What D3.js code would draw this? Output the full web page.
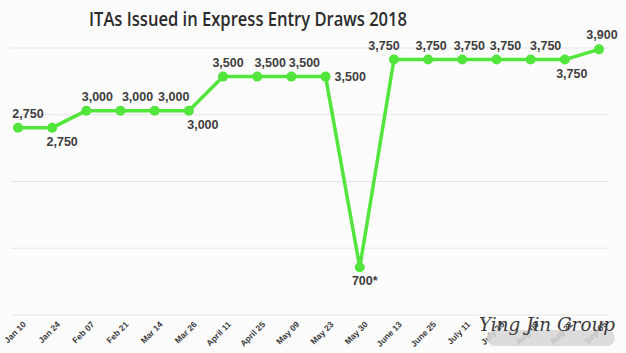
<!DOCTYPE html>
<html>
<head>
<meta charset="utf-8">
<script src="https://cdn.jsdelivr.net/npm/d3@7"></script>
<style>
  body { margin: 0; background: #fff; }
  svg { display: block; }
</style>
</head>
<body>
<svg id="drawing_region"></svg>
<script>
const draws = ["Jan 10", "Jan 24", "Feb 07", "Feb 21", "Mar 14", "Mar 26", "April 11", "April 25",
  "May 09", "May 23", "May 30", "June 13", "June 25", "July 11", "July 25", "Aug 08", "Aug 22", "Sep 05"];
const itas = [2750, 2750, 3000, 3000, 3000, 3000, 3500, 3500, 3500, 3500, 700,
  3750, 3750, 3750, 3750, 3750, 3750, 3900];
const valueLabels = ["2,750", "2,750", "3,000", "3,000", "3,000", "3,000", "3,500", "3,500", "3,500",
  "3,500", "700*", "3,750", "3,750", "3,750", "3,750", "3,750", "3,750", "3,900"];
const gridValues = [0, 980, 1960, 2940, 3920];

// where each value label sits: a = above, b = below, r = right
const labelSide = ["a", "b", "a", "a", "a", "b", "a", "a", "a", "r", "b", "a", "a", "a", "a", "a", "b", "a"];
const labelShift = [10, 10, 11, 17, 19, 14, 5, 13, 13, 0, 5, -10, 3, 7, 9, 15, 7, 3];

const width = 626;
const height = 353;

const svg = d3.select('#drawing_region')
    .attr('width', width)
    .attr('height', height);

svg.append('rect')
    .attr('width', width).attr('height', height)
    .attr('fill', '#fdfcfd');

const xscale = d3.scalePoint()
    .domain(draws)
    .range([18, 599]);

const yscale = d3.scaleLinear()
    .domain([0, 3920])
    .range([315, 48]);

// gridlines
svg.append('g')
  .selectAll('line')
  .data(gridValues)
  .enter()
  .append('line')
    .attr('x1', 11)
    .attr('x2', 608)
    .attr('y1', d => yscale(d))
    .attr('y2', d => yscale(d))
    .attr('stroke', '#e6e4e8')
    .attr('stroke-width', 1);

// title
svg.append('text')
    .attr('x', 248)
    .attr('y', 26)
    .attr('text-anchor', 'middle')
    .attr('font-family', '"Open Sans", sans-serif')
    .attr('font-weight', 600)
    .attr('font-size', '20px')
    .attr('textLength', 318)
    .attr('lengthAdjust', 'spacingAndGlyphs')
    .attr('fill', '#2b2b2b')
    .text('ITAs Issued in Express Entry Draws 2018');

// x axis labels
const xaxis = d3.axisBottom(xscale).tickSize(0).tickPadding(0);
const xg = svg.append('g')
    .attr('transform', 'translate(0, 315)')
    .call(xaxis);
xg.select('.domain').remove();
xg.selectAll('text')
    .attr('font-family', '"Liberation Sans", Arial, sans-serif')
    .attr('font-weight', 'bold')
    .attr('font-size', '8.5px')
    .attr('fill', '#3a3a3a')
    .attr('text-anchor', 'end')
    .attr('dy', null)
    .attr('transform', 'translate(8, 10) rotate(-45)');

// line
const pts = draws.map((d, i) => ({ label: d, value: itas[i], text: valueLabels[i], side: labelSide[i], shift: labelShift[i] }));

const line = d3.line()
    .x(d => xscale(d.label))
    .y(d => yscale(d.value));

svg.append('path')
    .datum(pts)
    .attr('d', line)
    .attr('fill', 'none')
    .attr('stroke', '#52e53c')
    .attr('stroke-width', 3.5)
    .attr('stroke-linejoin', 'round');

svg.selectAll('circle.pt')
  .data(pts)
  .enter()
  .append('circle')
    .attr('class', 'pt')
    .attr('cx', d => xscale(d.label))
    .attr('cy', d => yscale(d.value))
    .attr('r', 5)
    .attr('fill', '#52e53c');

// value labels
svg.selectAll('text.val')
  .data(pts)
  .enter()
  .append('text')
    .attr('class', 'val')
    .attr('x', d => xscale(d.label) + d.shift + (d.side === 'r' ? 9 : 0))
    .attr('y', d => yscale(d.value) + (d.side === 'a' ? -10 : d.side === 'b' ? 18 : 4))
    .attr('text-anchor', d => d.side === 'r' ? 'start' : 'middle')
    .attr('font-family', '"Liberation Sans", Arial, sans-serif')
    .attr('font-weight', 'bold')
    .attr('font-size', '12.5px')
    .attr('fill', '#3d3d3d')
    .text(d => d.text);

// watermark
svg.append('rect')
    .attr('x', 487).attr('y', 330)
    .attr('width', 128).attr('height', 16)
    .attr('rx', 8)
    .attr('fill', '#d6d6d6')
    .attr('opacity', 0.85);
svg.append('text')
    .attr('x', 479)
    .attr('y', 331)
    .attr('font-family', '"DejaVu Serif", serif')
    .attr('font-style', 'italic')
    .attr('font-size', '19px')
    .attr('textLength', 136)
    .attr('lengthAdjust', 'spacingAndGlyphs')
    .attr('fill', '#3a3a3a')
    .text('Ying Jin Group');
</script>
</body>
</html>
